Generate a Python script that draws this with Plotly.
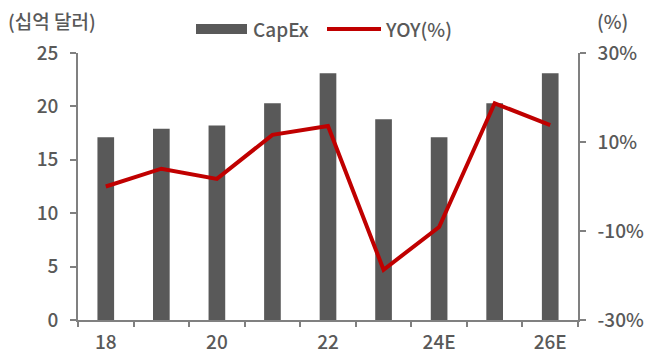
import plotly.graph_objects as go

# Annual capital expenditure (billion USD) and its year-over-year change
years = ["18", "19", "20", "21", "22", "23", "24E", "25E", "26E"]
capex = [17.1, 17.9, 18.2, 20.3, 23.1, 18.8, 17.1, 20.3, 23.1]
yoy = [0.0, 4.0, 1.7, 11.6, 13.6, -18.7, -9.1, 18.7, 13.8]

label_years = ["18", "20", "22", "24E", "26E"]

BAR = "#595959"
LINE = "#C00000"
TEXT = "#595959"
AXIS = "#808080"
FONT = "Noto Sans CJK KR"
FS = 19
WEIGHT = 500

x = list(range(len(years)))
label_pos = [years.index(y) for y in label_years]

tick_font = dict(size=FS, color=TEXT, family=FONT, weight=WEIGHT)

fig = go.Figure()
fig.add_trace(go.Bar(
    x=x, y=capex, name="CapEx", marker=dict(color=BAR, line=dict(width=0)),
    width=0.3, yaxis="y",
))
fig.add_trace(go.Scatter(
    x=x, y=yoy, name="YOY(%)", mode="lines",
    line=dict(color=LINE, width=4), yaxis="y2",
))

fig.update_layout(
    width=649, height=354,
    margin=dict(l=78, r=71, t=53, b=34),
    paper_bgcolor="white", plot_bgcolor="white",
    font=dict(family=FONT, color=TEXT, size=FS, weight=WEIGHT),
    showlegend=False,
    xaxis=dict(
        range=[-0.5, len(years) - 0.5], automargin=False,
        tickmode="array", tickvals=label_pos, ticktext=label_years,
        ticks="", showgrid=False, zeroline=False,
        showline=True, linecolor=AXIS, linewidth=1.5,
        tickfont=tick_font,
        minor=dict(tickmode="array",
                   tickvals=[i - 0.5 for i in range(len(years) + 1)],
                   ticks="outside", ticklen=5, tickwidth=1.5, tickcolor=AXIS),
        ticklabelstandoff=4,
    ),
    yaxis=dict(
        range=[0, 25], dtick=5, showgrid=False, zeroline=False, automargin=False,
        showline=True, linecolor=AXIS, linewidth=1.5,
        ticks="outside", ticklen=6, tickwidth=1.5, tickcolor=AXIS,
        tickfont=tick_font, ticklabelstandoff=8,
    ),
    yaxis2=dict(
        range=[-30, 30], tickvals=[-30, -10, 10, 30],
        ticktext=["-30%", "-10%", "10%", "30%"], automargin=False,
        overlaying="y", side="right", showgrid=False, zeroline=False,
        showline=True, linecolor=AXIS, linewidth=1.5,
        ticks="outside", ticklen=6, tickwidth=1.5, tickcolor=AXIS,
        tickfont=tick_font, ticklabelstandoff=8,
    ),
)


def px_x(p):
    return (p - 78) / 500


def px_y(p):
    return (320 - p) / 267


# Axis unit captions
fig.add_annotation(text="(십억 달러)", xref="paper", yref="paper",
                   x=px_x(6), y=px_y(21), xanchor="left", yanchor="middle",
                   showarrow=False, font=tick_font)
fig.add_annotation(text="(%)", xref="paper", yref="paper",
                   x=px_x(595), y=px_y(21), xanchor="left", yanchor="middle",
                   showarrow=False, font=tick_font)

# Legend drawn in paper coordinates above the plot
fig.add_shape(type="rect", xref="paper", yref="paper",
              x0=px_x(196), x1=px_x(247), y0=px_y(34), y1=px_y(24),
              fillcolor=BAR, line=dict(width=0))
fig.add_annotation(text="CapEx", xref="paper", yref="paper",
                   x=px_x(251), y=px_y(28), xanchor="left", yanchor="middle",
                   showarrow=False, font=tick_font)
fig.add_shape(type="line", xref="paper", yref="paper",
              x0=px_x(327), x1=px_x(381), y0=px_y(29), y1=px_y(29),
              line=dict(color=LINE, width=4))
fig.add_annotation(text="YOY(%)", xref="paper", yref="paper",
                   x=px_x(383), y=px_y(28), xanchor="left", yanchor="middle",
                   showarrow=False, font=tick_font)

fig.write_html("out.html")
